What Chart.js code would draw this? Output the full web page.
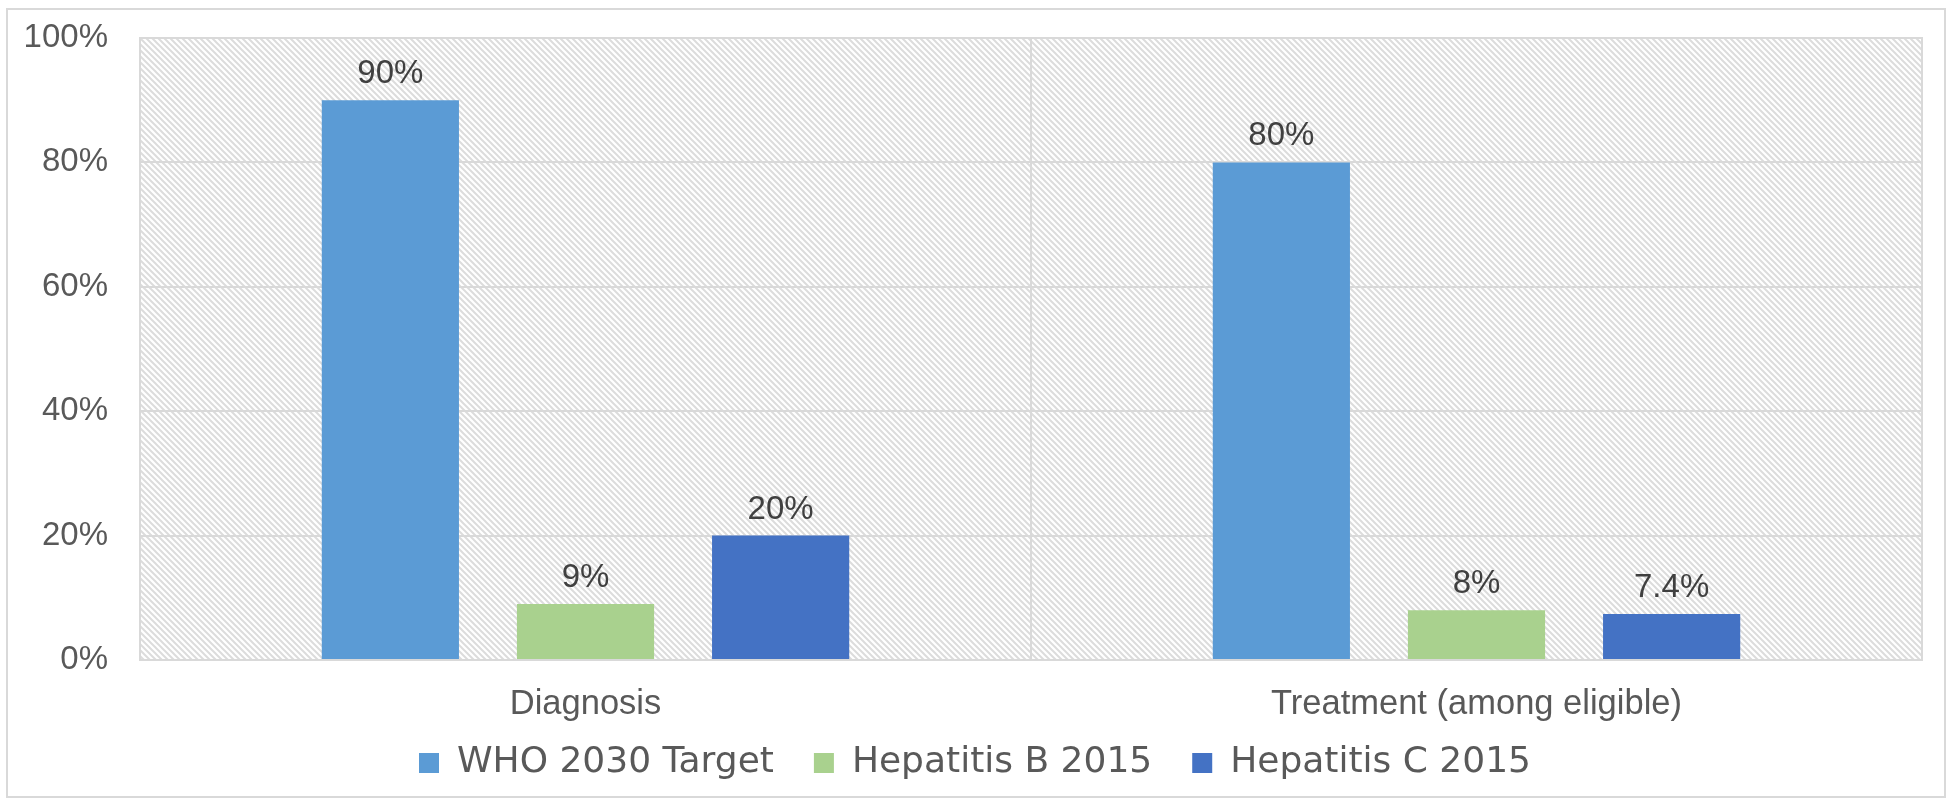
<!DOCTYPE html>
<html>
<head>
<meta charset="utf-8">
<title>Viral hepatitis: diagnosis and treatment coverage</title>
<script src="https://cdn.jsdelivr.net/npm/chart.js@4/dist/chart.umd.min.js"></script>
<style>
  html, body { margin: 0; padding: 0; background: #ffffff; }
  canvas { display: block; }
</style>
</head>
<body>
<canvas id="chart" width="1950" height="801"></canvas>
<script>
// Categories and series values (percent)
const categories = ['Diagnosis', 'Treatment (among eligible)'];
const seriesNames = ['WHO 2030 Target', 'Hepatitis B 2015', 'Hepatitis C 2015'];
const whoTarget2030 = [90, 80];
const hepatitisB2015 = [9, 8];
const hepatitisC2015 = [20, 7.4];
const seriesColors = ['#5B9BD5', '#A9D18E', '#4472C4'];

const FONT = '"Liberation Sans", Arial, sans-serif';
const LEGEND_FONT = '"DejaVu Sans", "Liberation Sans", sans-serif';
const pct = v => v + '%';

// Diagonal hatch used as the plot-area fill
function makeHatch() {
  const p = 6;
  const c = document.createElement('canvas');
  c.width = p; c.height = p;
  const g = c.getContext('2d');
  g.fillStyle = '#ffffff';
  g.fillRect(0, 0, p, p);
  g.strokeStyle = '#dcdcdc';
  g.lineWidth = 2;
  g.beginPath();
  g.moveTo(-2, -2); g.lineTo(p + 2, p + 2);
  g.moveTo(-2, p - 2); g.lineTo(2, p + 2);
  g.moveTo(p - 2, -2); g.lineTo(p + 2, 2);
  g.stroke();
  return c;
}

const frame = {
  id: 'frame',
  beforeDraw(chart) {
    const { ctx, chartArea: a } = chart;
    ctx.save();
    ctx.fillStyle = '#ffffff';
    ctx.fillRect(0, 0, chart.width, chart.height);
    ctx.strokeStyle = '#d9d9d9';
    ctx.lineWidth = 2;
    ctx.strokeRect(7, 9, chart.width - 12, chart.height - 13);
    ctx.fillStyle = ctx.createPattern(makeHatch(), 'repeat');
    ctx.fillRect(a.left, a.top, a.right - a.left, a.bottom - a.top);
    ctx.restore();
  },
  afterDraw(chart) {
    const { ctx, chartArea: a } = chart;
    ctx.save();
    ctx.strokeStyle = '#d9d9d9';
    ctx.lineWidth = 2;
    ctx.strokeRect(a.left, a.top, a.right - a.left, a.bottom - a.top);
    ctx.restore();
  }
};

// Value labels above each bar, category names under the axis
const textLabels = {
  id: 'textLabels',
  afterDatasetsDraw(chart) {
    const { ctx } = chart;
    ctx.save();
    ctx.textAlign = 'center';
    ctx.textBaseline = 'alphabetic';
    ctx.font = '33px ' + FONT;
    ctx.fillStyle = '#404040';
    chart.data.datasets.forEach((ds, i) => {
      chart.getDatasetMeta(i).data.forEach((bar, j) => {
        ctx.fillText(pct(ds.data[j]), bar.x, bar.y - 17);
      });
    });
    const x = chart.scales.x;
    ctx.font = '34.5px ' + FONT;
    ctx.fillStyle = '#595959';
    categories.forEach((c, i) => {
      ctx.fillText(c, x.getPixelForValue(i), x.top + 54);
    });
    ctx.restore();
  }
};

const seriesData = [whoTarget2030, hepatitisB2015, hepatitisC2015];

new Chart(document.getElementById('chart'), {
  type: 'bar',
  data: {
    labels: categories,
    datasets: seriesNames.map((name, i) => ({
      label: name,
      data: seriesData[i],
      backgroundColor: seriesColors[i],
      borderWidth: 0,
      categoryPercentage: 0.657,
      barPercentage: 0.703
    }))
  },
  options: {
    responsive: false,
    animation: false,
    devicePixelRatio: 1,
    layout: { padding: { left: 0, top: 38, right: 0, bottom: 10 } },
    plugins: {
      tooltip: { enabled: false },
      legend: {
        position: 'bottom',
        labels: {
          boxWidth: 20,
          boxHeight: 20,
          padding: 40,
          color: '#595959',
          font: { family: LEGEND_FONT, size: 36 }
        }
      }
    },
    scales: {
      x: {
        grid: { offset: true, color: '#d9d9d9', lineWidth: 2, drawTicks: false },
        border: { display: false },
        ticks: { display: false },
        afterFit(s) { s.height = 45; }
      },
      y: {
        min: 0,
        max: 100,
        grid: { color: '#d9d9d9', lineWidth: 2, drawTicks: true, tickLength: 18, tickColor: 'rgba(0,0,0,0)' },
        border: { display: false },
        ticks: {
          stepSize: 20,
          color: '#595959',
          padding: 14,
          font: { family: FONT, size: 33 },
          callback: v => pct(v)
        },
        afterFit(s) { s.width = 140; }
      },
      edge: {
        type: 'linear',
        position: 'right',
        grid: { display: false },
        border: { display: false },
        ticks: { display: false },
        afterFit(s) { s.width = 28; }
      }
    }
  },
  plugins: [frame, textLabels]
});
</script>
</body>
</html>
